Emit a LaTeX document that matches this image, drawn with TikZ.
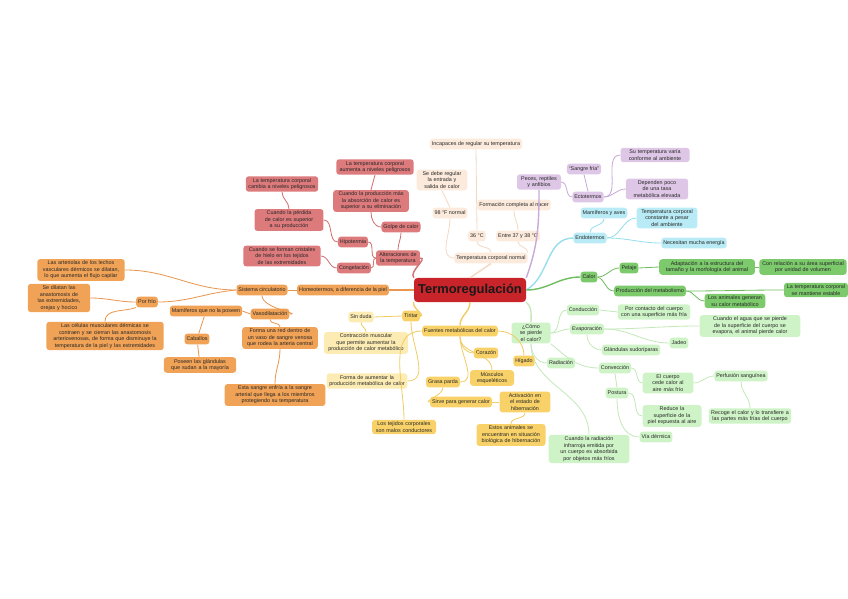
\documentclass[tikz,border=0pt]{standalone}
\usepackage{fontspec}
\setmainfont{Liberation Sans}
\usetikzlibrary{positioning,calc}
\hyphenpenalty=10000
\definecolor{coreF}{RGB}{200,36,42}
\definecolor{orgF}{RGB}{240,162,86}
\definecolor{orgL}{RGB}{232,150,80}
\definecolor{redF}{RGB}{220,122,124}
\definecolor{redL}{RGB}{208,112,114}
\definecolor{peaF}{RGB}{252,235,220}
\definecolor{peaL}{RGB}{243,216,194}
\definecolor{purF}{RGB}{222,198,230}
\definecolor{purL}{RGB}{200,170,216}
\definecolor{cyaF}{RGB}{184,235,245}
\definecolor{cyaL}{RGB}{150,222,236}
\definecolor{grnF}{RGB}{124,202,108}
\definecolor{grnL}{RGB}{110,190,95}
\definecolor{lgrF}{RGB}{206,243,198}
\definecolor{lgrL}{RGB}{196,232,186}
\definecolor{yelF}{RGB}{248,210,104}
\definecolor{yelL}{RGB}{240,204,100}
\definecolor{lyeF}{RGB}{252,236,180}

\begin{document}
\begin{tikzpicture}[
  x=0.03cm, y=-0.03cm,
  nd/.style={rounded corners=2.5pt, inner sep=1.7pt, align=center, minimum height=0.32cm,
    font=\fontsize{4.6}{5.5}\selectfont, text=black!85},
  ob/.style={nd, fill=orgF},
  rb/.style={nd, fill=redF},
  pb/.style={nd, fill=peaF},
  ub/.style={nd, fill=purF},
  cb/.style={nd, fill=cyaF},
  gb/.style={nd, fill=grnF},
  lb/.style={nd, fill=lgrF},
  yb/.style={nd, fill=yelF},
  qb/.style={nd, fill=lyeF},
  main/.style={line width=1.2pt},
  sub/.style={line width=0.7pt},
]
\useasboundingbox (0,0) rectangle (848,599);

% ---------- Core ----------
\node[rounded corners=3pt, fill=coreF, minimum width=3.36cm, minimum height=0.72cm,
  font=\fontsize{11}{12}\selectfont\bfseries, text=black!90] (core) at (470,290) {Termoregulación};

% ---------- Orange branch ----------
\node[ob] (o_homeo) at (343,290) {Homeotermos, a diferencia de la piel};
\node[ob] (o_circ) at (262,290) {Sistema circulatorio};
\node[ob, text width=2.5cm] (o_arter) at (81,270) {Las arteriolas de los lechos vasculares dérmicos se dilatan, lo que aumenta el flujo capilar};
\node[ob, text width=1.75cm] (o_anast) at (59,298) {Se dilatan las anastomosis de las extremidades, orejas y hocico};
\node[ob] (o_frio) at (147,302) {Por frío};
\node[ob, text width=3.4cm] (o_contr) at (105,336) {Las células musculares dérmicas se contraen y se cierran las anastomosis arteriovenosas, de forma que disminuye la temperatura de la piel y las extremidades};
\node[ob] (o_vaso) at (270,314) {Vasodilatación};
\node[ob] (o_mamif) at (206,311) {Mamíferos que no la poseen};
\node[ob] (o_caball) at (197,339) {Caballos};
\node[ob, text width=2.05cm] (o_glan) at (200,365) {Poseen las glándulas que sudan a la mayoría};
\node[ob, text width=2.15cm] (o_red) at (280,338) {Forma una red dentro de un vaso de sangre venosa que rodea la arteria central};
\node[ob, text width=2.9cm] (o_sangre) at (275,395) {Esta sangre enfría a la sangre arterial que llega a los miembros protegiendo su temperatura};

\begin{scope}[orgL]
\draw[main] (core.west) -- (o_homeo.east);
\draw[sub] (o_homeo.west) -- (o_circ.east);
\draw[sub] (o_circ.west) to[out=180,in=0] (o_arter.east);
\draw[sub] (o_circ.west) to[out=185,in=0] (o_frio.east);
\draw[sub] (o_frio.west) to[out=180,in=0] (o_anast.east);
\draw[sub] (o_frio.south west) to[out=200,in=90] (o_contr.north);
\draw[sub] (o_circ.south) to[out=-90,in=0] (o_vaso.east);
\draw[sub] (o_vaso.west) -- (o_mamif.east);
\draw[sub] (o_vaso.south) to[out=-90,in=90] (o_red.north);
\draw[sub] (o_red.south) to[out=-90,in=90] (o_sangre.north);
\draw[sub] (o_mamif) -- (o_caball);
\draw[sub] (o_caball) -- (o_glan);
\end{scope}

% ---------- Red branch ----------
\node[rb, text width=1.2cm] (r_alter) at (398,258) {Alteraciones de la temperatura};
\node[rb] (r_golpe) at (401,227) {Golpe de calor};
\node[rb] (r_hipo) at (353,242) {Hipotermia};
\node[rb] (r_cong) at (354,268) {Congelación};
\node[rb, text width=1.95cm] (r_perd) at (289,220) {Cuando la pérdida de calor es superior a su producción};
\node[rb, text width=2.05cm] (r_cambia) at (282,184) {La temperatura corporal cambia a niveles peligrosos};
\node[rb, text width=2.2cm] (r_crist) at (282,256) {Cuando se forman cristales de hielo en los tejidos de las extremidades};
\node[rb, text width=2.15cm] (r_prod) at (371,201) {Cuando la producción más la absorción de calor es superior a su eliminación};
\node[rb, text width=2.2cm] (r_aumenta) at (375,167) {La temperatura corporal aumenta a niveles peligrosos};

\begin{scope}[redL]
\draw[main] (core.north west) to[out=130,in=0] (r_alter.east);
\draw[sub] (r_alter.north) to[out=90,in=-90] (r_golpe.south);
\draw[sub] (r_alter.west) to[out=180,in=0] (r_hipo.east);
\draw[sub] (r_alter.west) to[out=180,in=0] (r_cong.east);
\draw[sub] (r_hipo.west) to[out=180,in=0] (r_perd.east);
\draw[sub] (r_perd.north) to[out=90,in=-90] (r_cambia.south);
\draw[sub] (r_cong.west) to[out=180,in=0] (r_crist.east);
\draw[sub] (r_golpe.west) to[out=180,in=-90] (r_prod.south);
\draw[sub] (r_prod.north) -- (r_aumenta.south);
\end{scope}

% ---------- Peach branch ----------
\node[pb] (p_temp) at (491,258) {Temperatura corporal normal};
\node[pb] (p_98) at (450,213) {98 °F normal};
\node[pb, text width=1.4cm] (p_entrada) at (442,180) {Se debe regular la entrada y salida de calor};
\node[pb] (p_36) at (477,236) {36 °C};
\node[pb] (p_incap) at (476,144) {Incapaces de regular su temperatura};
\node[pb] (p_entre) at (518,236) {Entre 37 y 38 °C};
\node[pb] (p_form) at (514,205) {Formación completa al nacer};

\begin{scope}[peaL]
\draw[main] (core.north) -- (p_temp.south);
\draw[sub] (p_temp.west) to[out=180,in=-90] (p_98.south);
\draw[sub] (p_98.north) -- (p_entrada.south);
\draw[sub] (p_temp.north) to[out=90,in=-90] (p_36.south);
\draw[sub] (p_36.north) -- (p_incap.south);
\draw[sub] (p_temp.north east) to[out=90,in=-90] (p_entre.south);
\draw[sub] (p_entre.north) to[out=90,in=-90] (p_form.south);
\end{scope}

% ---------- Purple branch ----------
\node[ub, text width=1.2cm] (u_rept) at (539,182) {Peces, reptiles y anfibios};
\node[ub] (u_ecto) at (588,197) {Ectotermos};
\node[ub] (u_sangre) at (584,169) {“Sangre fría”};
\node[ub, text width=1.95cm] (u_varia) at (655,155) {Su temperatura varía conforme al ambiente};
\node[ub, text width=1.75cm] (u_depend) at (657,189) {Dependen poco de una tasa metabólica elevada};

\begin{scope}[purL]
\draw[main] (core.north east) to[out=70,in=-90] (u_rept.south);
\draw[sub] (u_rept.east) to[out=0,in=180] (u_ecto.west);
\draw[sub] (u_ecto.north) -- (u_sangre.south);
\draw[sub] (u_ecto.east) to[out=0,in=180] (u_varia.west);
\draw[sub] (u_ecto.east) to[out=0,in=180] (u_depend.west);
\end{scope}

% ---------- Cyan branch ----------
\node[cb] (c_endo) at (590,238) {Endotermos};
\node[cb] (c_mamif) at (604,213) {Mamíferos y aves};
\node[cb, text width=1.7cm] (c_const) at (667,218) {Temperatura corporal constante a pesar del ambiente};
\node[cb] (c_energ) at (694,243) {Necesitan mucha energía};

\begin{scope}[cyaL]
\draw[main] (core.east) to[out=30,in=180] (c_endo.west);
\draw[sub] (c_endo.north) to[out=90,in=-90] (c_mamif.south);
\draw[sub] (c_endo.east) to[out=0,in=180] (c_const.west);
\draw[sub] (c_endo.east) to[out=0,in=180] (c_energ.west);
\end{scope}

% ---------- Green branch ----------
\node[gb] (g_calor) at (589,277) {Calor};
\node[gb] (g_pelaje) at (629,268) {Pelaje};
\node[gb, text width=2.75cm] (g_adapt) at (707,267) {Adaptación a la estructura del tamaño y la morfología del animal};
\node[gb, text width=2.5cm] (g_relac) at (803,267) {Con relación a su área superficial por unidad de volumen};
\node[gb] (g_prod) at (650,291) {Producción del metabolismo};
\node[gb, text width=1.8cm] (g_mant) at (816,290) {La temperatura corporal se mantiene estable};
\node[gb, text width=1.7cm] (g_anim) at (735,301) {Los animales generan su calor metabólico};

\begin{scope}[grnL]
\draw[main] (core.east) to[out=0,in=180] (g_calor.west);
\draw[sub] (g_calor.east) to[out=0,in=180] (g_pelaje.west);
\draw[sub] (g_calor.east) to[out=-20,in=180] (g_prod.west);
\draw[sub] (g_pelaje.east) -- (g_adapt.west);
\draw[sub] (g_adapt.east) -- (g_relac.west);
\draw[sub] (g_prod.east) to[out=0,in=180] (g_mant.west);
\draw[sub] (g_prod.east) to[out=0,in=180] (g_anim.west);
\end{scope}

% ---------- Light green branch ----------
\node[lb, text width=1.05cm] (l_pierde) at (531,333) {¿Cómo se pierde el calor?};
\node[lb] (l_cond) at (583,310) {Conducción};
\node[lb, text width=2.05cm] (l_contacto) at (654,312) {Por contacto del cuerpo con una superficie más fría};
\node[lb] (l_evap) at (587,329) {Evaporación};
\node[lb, text width=2.9cm] (l_cuando) at (750,326) {Cuando el agua que se pierde de la superficie del cuerpo se evapora, el animal pierde calor};
\node[lb] (l_jadeo) at (679,343) {Jadeo};
\node[lb] (l_glan) at (631,350) {Glándulas sudoríparas};
\node[lb] (l_rad) at (561,363) {Radiación};
\node[lb] (l_conv) at (615,368) {Convección};
\node[lb, text width=1.4cm] (l_cuerpo) at (668,383) {El cuerpo cede calor al aire más frío};
\node[lb] (l_perf) at (741,376) {Perfusión sanguínea};
\node[lb, text width=2.35cm] (l_recoge) at (750,416) {Recoge el calor y lo transfiere a las partes más frías del cuerpo};
\node[lb] (l_postura) at (617,393) {Postura};
\node[lb, text width=1.65cm] (l_reduce) at (672,416) {Reduce la superficie de la piel expuesta al aire};
\node[lb] (l_via) at (656,437) {Vía dérmica};
\node[lb, text width=2.3cm] (l_radtext) at (589,449) {Cuando la radiación infrarroja emitida por un cuerpo es absorbida por objetos más fríos};

\begin{scope}[lgrL]
\draw[main] (core.south east) to[out=-40,in=90] (l_pierde.north);
\draw[sub] (l_pierde.east) to[out=0,in=180] (l_cond.west);
\draw[sub] (l_pierde.east) to[out=0,in=180] (l_evap.west);
\draw[sub] (l_pierde.south) to[out=-90,in=180] (l_rad.west);
\draw[sub] (l_pierde.south east) to[out=-40,in=180] (l_conv.west);
\draw[sub] (l_pierde.south) to[out=-90,in=90] (l_radtext.north);
\draw[sub] (l_cond.east) -- (l_contacto.west);
\draw[sub] (l_evap.east) to[out=0,in=180] (l_cuando.west);
\draw[sub] (l_evap.east) to[out=0,in=180] (l_jadeo.west);
\draw[sub] (l_evap.south) to[out=-90,in=180] (l_glan.west);
\draw[sub] (l_conv.east) to[out=0,in=180] (l_cuerpo.west);
\draw[sub] (l_cuerpo.east) to[out=0,in=180] (l_perf.west);
\draw[sub] (l_perf.south) to[out=-90,in=90] (l_recoge.north);
\draw[sub] (l_conv.south) -- (l_postura.north);
\draw[sub] (l_postura.east) to[out=0,in=180] (l_reduce.west);
\draw[sub] (l_postura.south) to[out=-90,in=180] (l_via.west);
\end{scope}

% ---------- Yellow branch ----------
\node[yb] (y_tiritar) at (411,316) {Tiritar};
\node[qb] (y_sinduda) at (361,317) {Sin duda};
\node[qb, text width=2.4cm] (y_contr) at (366,343) {Contracción muscular que permite aumentar la producción de calor metabólico};
\node[qb, text width=2.3cm] (y_forma) at (367,381) {Forma de aumentar la producción metabólica de calor};
\node[yb, text width=1.8cm] (y_tej) at (404,427) {Los tejidos corporales son malos conductores};
\node[yb] (y_fuentes) at (460,331) {Fuentes metabólicas del calor};
\node[yb] (y_cor) at (486,353) {Corazón};
\node[yb] (y_hig) at (524,361) {Hígado};
\node[yb, text width=1.2cm] (y_musc) at (492,378) {Músculos esqueléticos};
\node[yb] (y_grasa) at (443,382) {Grasa parda};
\node[yb] (y_sirve) at (461,402) {Sirve para generar calor};
\node[yb, text width=1.4cm] (y_ayuda) at (525,402) {Activación en el estado de hibernación};
\node[yb, text width=1.95cm] (y_estos) at (511,435) {Estos animales se encuentran en situación biológica de hibernación};

\begin{scope}[yelL]
\draw[main] (core.south west) to[out=-110,in=0] (y_tiritar.east);
\draw[main] (core.south) to[out=-90,in=90] (y_fuentes.north);
\draw[sub] (y_tiritar.west) -- (y_sinduda.east);
\draw[sub] (y_sinduda.south) to[out=-90,in=90] (y_contr.north);
\draw[sub] (y_tiritar.south) to[out=-90,in=0] (y_forma.east);
\draw[sub] (y_fuentes.west) to[out=180,in=90] (y_tej.north);
\draw[sub] (y_fuentes.south) to[out=-90,in=180] (y_cor.west);
\draw[sub] (y_fuentes.east) to[out=0,in=90] (y_hig.north);
\draw[sub] (y_fuentes.south) to[out=-90,in=90] (y_musc.north);
\draw[sub] (y_fuentes.south) to[out=-90,in=0] (y_grasa.east);
\draw[sub] (y_grasa.south) to[out=-90,in=180] (y_sirve.west);
\draw[sub] (y_sirve.east) -- (y_ayuda.west);
\draw[sub] (y_ayuda.south) to[out=-90,in=90] (y_estos.north);
\end{scope}

\end{tikzpicture}
\end{document}
